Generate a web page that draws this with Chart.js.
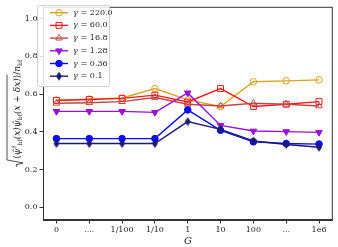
<!DOCTYPE html>
<html>
<head>
<meta charset="utf-8">
<script src="https://cdn.jsdelivr.net/npm/chart.js@4"></script>
<style>
  html, body { margin: 0; padding: 0; background: #fff; }
  #wrap { width: 338px; height: 247px; }
</style>
</head>
<body>
<div id="wrap"><canvas id="chart" width="338" height="247"></canvas></div>
<script>
// tick labels on the G axis
const categories = ['0', '....', '1/100', '1/10', '1', '10', '100', '...', '1e6'];
const yTicks = [0.0, 0.2, 0.4, 0.6, 0.8, 1.0];

// one series per gamma
const gammaLabels = ['γ = 220.0', 'γ = 60.0', 'γ = 16.8', 'γ = 1.28', 'γ = 0.36', 'γ = 0.1'];
const g220 = [0.568, 0.573, 0.579, 0.629, 0.569, 0.534, 0.665, 0.670, 0.675];
const g60 = [0.566, 0.571, 0.577, 0.594, 0.558, 0.629, 0.534, 0.546, 0.560];
const g16_8 = [0.551, 0.554, 0.560, 0.582, 0.546, 0.537, 0.551, 0.546, 0.537];
const g1_28 = [0.508, 0.508, 0.508, 0.503, 0.606, 0.434, 0.404, 0.401, 0.397];
const g0_36 = [0.364, 0.364, 0.364, 0.364, 0.516, 0.408, 0.347, 0.338, 0.335];
const g0_1 = [0.338, 0.338, 0.338, 0.338, 0.454, 0.413, 0.352, 0.333, 0.318];

const seriesValues = [g220, g60, g16_8, g1_28, g0_36, g0_1];
const colors = ['#daa520', '#ff1a1a', '#c04848', '#9a10d8', '#0a0aff', '#1c1c6e'];

// thin diamond marker (matplotlib 'd')
function thinDiamond(color) {
  const c = document.createElement('canvas');
  c.width = 8; c.height = 10;
  const x = c.getContext('2d');
  x.fillStyle = color;
  x.beginPath();
  x.moveTo(4, 0.5); x.lineTo(7, 5); x.lineTo(4, 9.5); x.lineTo(1, 5);
  x.closePath();
  x.fill();
  return c;
}

const markers = [
  { pointStyle: 'circle', radius: 3.3, fill: false, rotation: 0 },
  { pointStyle: 'rect', radius: 4.2, fill: false, rotation: 0 },
  { pointStyle: 'triangle', radius: 3.8, fill: false, rotation: 0 },
  { pointStyle: 'triangle', radius: 3.8, fill: true, rotation: 180 },
  { pointStyle: 'circle', radius: 3.3, fill: true, rotation: 0 },
  { pointStyle: thinDiamond(colors[5]), radius: 4, fill: true, rotation: 0 }
];

const datasets = seriesValues.map((vals, k) => ({
  label: gammaLabels[k],
  data: vals.map((v, i) => ({ x: i, y: v })),
  borderColor: colors[k],
  borderWidth: 1.4,
  pointStyle: markers[k].pointStyle,
  pointRadius: markers[k].radius,
  pointRotation: markers[k].rotation,
  pointBorderColor: colors[k],
  pointBorderWidth: 1,
  pointBackgroundColor: markers[k].fill ? colors[k] : 'rgba(0,0,0,0)',
  order: seriesValues.length - k,
  tension: 0
}));

const serif = '"DejaVu Serif", "Liberation Serif", serif';

// box around the plot + legend with line samples + math y title
const decorations = {
  id: 'decorations',
  afterDraw(chart) {
    const ctx = chart.ctx;
    const a = chart.chartArea;
    ctx.save();
    ctx.strokeStyle = '#333';
    ctx.lineWidth = 1;
    ctx.strokeRect(a.left + 0.5, a.top + 0.5, a.right - a.left - 1, a.bottom - a.top - 1);

    // legend
    const lx = 37, ly = 5, lw = 72, lh = 81;
    ctx.fillStyle = 'rgba(255,255,255,0.85)';
    ctx.strokeStyle = '#d0d0d0';
    ctx.lineWidth = 1;
    ctx.beginPath();
    ctx.roundRect(lx + 0.5, ly + 0.5, lw, lh, 2);
    ctx.fill();
    ctx.stroke();
    datasets.forEach((ds, k) => {
      const y = 12.7 + k * 12.7;
      ctx.strokeStyle = ds.borderColor;
      ctx.lineWidth = 1.4;
      ctx.beginPath();
      ctx.moveTo(50, y); ctx.lineTo(68, y);
      ctx.stroke();
      ctx.lineWidth = 1;
      ctx.strokeStyle = ds.pointBorderColor;
      ctx.fillStyle = ds.pointBackgroundColor;
      Chart.helpers.drawPoint(ctx, {
        pointStyle: ds.pointStyle, radius: ds.pointRadius,
        rotation: ds.pointRotation, borderWidth: 1
      }, 59, y);
      ctx.fillStyle = '#222';
      ctx.textBaseline = 'middle';
      ctx.font = 'italic 8px ' + serif;
      ctx.fillText('γ', 73, y);
      ctx.font = '8px ' + serif;
      ctx.fillText(ds.label.slice(1), 78, y);
    });

    // y axis title, rotated
    ctx.translate(17, (a.top + a.bottom) / 2);
    ctx.rotate(-Math.PI / 2);
    const parts = [
      ['⟨', 'n', 0], ['ψ̂', 'i', 0], ['†', 's', 0], ['bf', 'b', 0], ['(x)', 'i', 0],
      ['ψ̂', 'i', 0], ['bf', 'b', 0], ['(x + δx)', 'i', 0], ['⟩', 'n', 0],
      ['/', 'n', 1], ['n', 'i', 1], ['bf', 'b', 1]
    ];
    const fontFor = t => t === 'i' ? 'italic 9px ' + serif
      : (t === 's' || t === 'b') ? '6px ' + serif : '9px ' + serif;
    ctx.fillStyle = '#222';
    ctx.textBaseline = 'alphabetic';
    let total = 8;
    parts.forEach(p => { ctx.font = fontFor(p[1]); total += ctx.measureText(p[0]).width; });
    let x = -total / 2;
    const base = 3;
    // radical sign
    ctx.strokeStyle = '#222';
    ctx.lineWidth = 0.8;
    ctx.beginPath();
    ctx.moveTo(x, base - 3);
    ctx.lineTo(x + 2, base - 4);
    ctx.lineTo(x + 4, base + 3);
    ctx.lineTo(x + 7, -10);
    x += 8;
    let sqrtEnd = x;
    parts.forEach(p => {
      ctx.font = fontFor(p[1]);
      const w = ctx.measureText(p[0]).width;
      const dy = p[1] === 's' ? -4 : p[1] === 'b' ? 2 : 0;
      ctx.fillText(p[0], x, base + dy);
      x += w;
      if (p[2] === 0) sqrtEnd = x;
    });
    ctx.lineTo(sqrtEnd, -10);
    ctx.stroke();
    ctx.restore();
  }
};

new Chart(document.getElementById('chart'), {
  type: 'line',
  data: { datasets },
  options: {
    responsive: false,
    animation: false,
    layout: { padding: { top: 2, right: 1, left: 0, bottom: 0 } },
    plugins: {
      legend: { display: false },
      tooltip: { enabled: false }
    },
    scales: {
      x: {
        type: 'linear',
        min: -0.41,
        max: 8.42,
        afterBuildTicks: s => { s.ticks = categories.map((_, i) => ({ value: i })); },
        afterFit: s => { s.height = 27; },
        ticks: {
          autoSkip: false,
          maxRotation: 0,
          padding: 2,
          color: '#222',
          font: { family: serif, size: 8 },
          callback: v => categories[v]
        },
        grid: { drawOnChartArea: false, drawTicks: true, tickLength: 3.5, tickColor: '#333' },
        border: { color: '#333', width: 1 },
        title: { display: true, text: 'G', color: '#222', padding: 0, font: { family: serif, size: 10, style: 'italic' } }
      },
      y: {
        min: -0.067,
        max: 1.062,
        afterBuildTicks: s => { s.ticks = yTicks.map(v => ({ value: v })); },
        afterFit: s => { s.width = 43; },
        ticks: {
          padding: 2,
          color: '#222',
          font: { family: serif, size: 8 },
          callback: v => v.toFixed(1)
        },
        grid: { drawOnChartArea: false, drawTicks: true, tickLength: 3.5, tickColor: '#333' },
        border: { color: '#333', width: 1 }
      }
    }
  },
  plugins: [decorations]
});
</script>
</body>
</html>
